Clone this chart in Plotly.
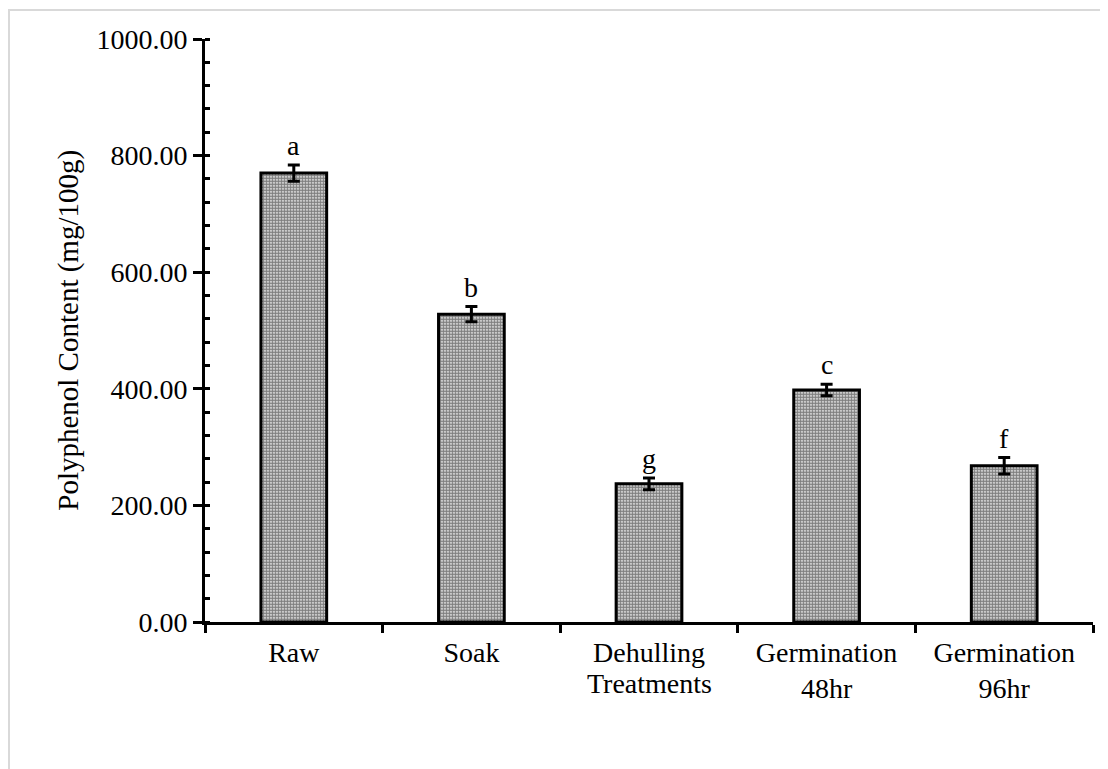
import plotly.graph_objects as go

categories = ["Raw", "Soak", "Dehulling", "Germination<br>48hr", "Germination<br>96hr"]
values = [770, 528, 237, 398, 268]
errors = [14, 13, 10, 10, 14]
letters = ["a", "b", "g", "c", "f"]
y_ticks = [0, 200, 400, 600, 800, 1000]
y_tick_labels = ["0.00", "200.00", "400.00", "600.00", "800.00", "1000.00"]

FONT = "Liberation Serif, Times New Roman, serif"
FS = 28

fig = go.Figure()
fig.add_trace(go.Bar(
    x=categories, y=values, width=0.37,
    marker=dict(color="white", line=dict(color="black", width=3),
                pattern=dict(shape=".", size=3, solidity=0.75, fgcolor="black", bgcolor="white")),
    error_y=dict(type="data", array=errors, visible=True, color="black", thickness=3, width=6),
    showlegend=False,
))

for c, v, e, l in zip(categories, values, errors, letters):
    fig.add_annotation(x=c, y=v + e, text=l, showarrow=False, yanchor="bottom", yshift=2,
                       font=dict(family=FONT, size=FS, color="black"))

fig.add_annotation(xref="paper", yref="paper", x=0.5, y=-0.106, text="Treatments",
                   showarrow=False, xanchor="center", yanchor="middle",
                   font=dict(family=FONT, size=FS, color="black"))
fig.add_annotation(xref="paper", yref="paper", x=-0.154, y=0.5, text="Polyphenol Content (mg/100g)",
                   showarrow=False, textangle=-90, xanchor="center", yanchor="middle",
                   font=dict(family=FONT, size=29, color="black"))

fig.add_shape(type="rect", xref="paper", yref="paper", x0=-0.2207, x1=1.05, y0=-0.3, y1=1.0497,
              line=dict(color="#d9d9d9", width=2), layer="below")

fig.update_layout(
    width=1100, height=761,
    margin=dict(l=197, r=15, t=31, b=147),
    plot_bgcolor="white", paper_bgcolor="white",
    font=dict(family=FONT, size=FS, color="black"),
    xaxis=dict(
        showline=True, linecolor="black", linewidth=3, tickson="boundaries",
        ticks="outside", ticklen=8, tickwidth=3, tickcolor="black",
        ticklabelstandoff=3,
        tickfont=dict(family=FONT, size=FS), showgrid=False,
    ),
    yaxis=dict(
        range=[0, 1000], showline=True, linecolor="black", linewidth=3,
        tickvals=y_ticks, ticktext=y_tick_labels,
        ticks="outside", ticklen=9, tickwidth=3, tickcolor="black",
        minor=dict(dtick=40, ticks="inside", ticklen=5, tickwidth=3, tickcolor="black", showgrid=False),
        showgrid=False, zeroline=False,
        tickfont=dict(family=FONT, size=FS),
    ),
)

fig.write_html("out.html")
